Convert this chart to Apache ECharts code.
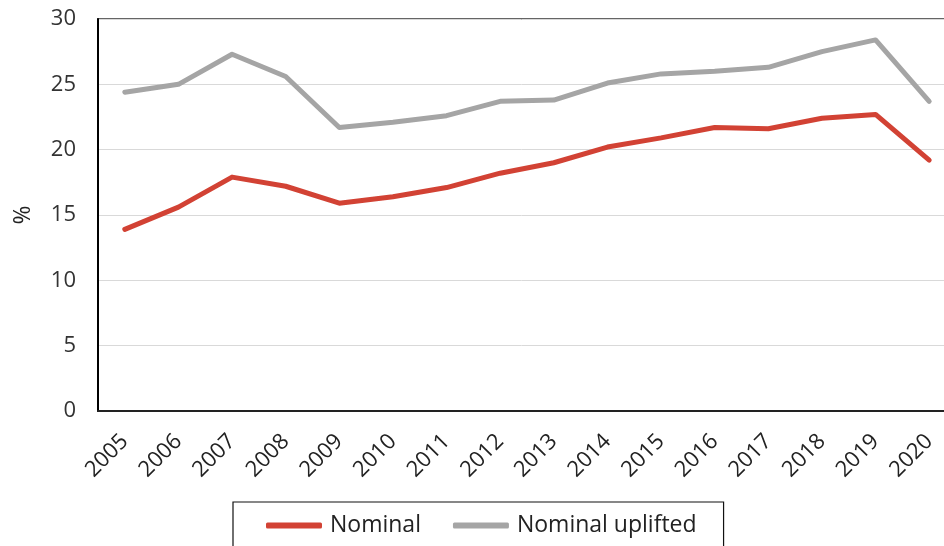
<!DOCTYPE html>
<html>
<head>
<meta charset="utf-8">
<script src="https://cdn.jsdelivr.net/npm/echarts@6/dist/echarts.min.js"></script>
<style>
html,body{margin:0;padding:0;background:#fff;}
#chart{width:944px;height:546px;}
</style>
</head>
<body>
<div id="chart"></div>
<script>
var years = ['2005','2006','2007','2008','2009','2010','2011','2012','2013','2014','2015','2016','2017','2018','2019','2020'];
var nominal = [13.9, 15.6, 17.9, 17.2, 15.9, 16.4, 17.1, 18.2, 19.0, 20.2, 20.9, 21.7, 21.6, 22.4, 22.7, 19.2];
var nominalUplifted = [24.4, 25.0, 27.3, 25.6, 21.7, 22.1, 22.6, 23.7, 23.8, 25.1, 25.8, 26.0, 26.3, 27.5, 28.4, 23.7];
var yTicks = [0, 5, 10, 15, 20, 25, 30];

var FONT = '"Open Sans", sans-serif';
var chart = echarts.init(document.getElementById('chart'), null, {renderer: 'canvas'});
chart.setOption({
  animation: false,
  backgroundColor: '#fff',
  textStyle: {fontFamily: FONT},
  grid: {left: 98, top: 19, width: 858, height: 392, outerBoundsMode: 'none', containLabel: false, show: true, borderColor: '#333', borderWidth: 1.5, backgroundColor: 'transparent'},
  legend: {
    left: 233, top: 502,
    padding: [12, 27, 18, 33],
    borderColor: '#111', borderWidth: 1.2,
    icon: 'roundRect',
    itemWidth: 56, itemHeight: 6, itemGap: 32,
    textStyle: {fontSize: 23, color: '#222', fontFamily: FONT, padding: [0, 0, 0, 3]},
    data: ['Nominal', 'Nominal uplifted']
  },
  xAxis: {
    type: 'category',
    data: years,
    boundaryGap: true,
    axisLine: {show: true, lineStyle: {color: '#222', width: 2}},
    axisTick: {show: false},
    axisLabel: {rotate: 45, fontSize: 22, color: '#222', margin: 27, interval: 0, fontFamily: FONT},
    splitLine: {show: false}
  },
  yAxis: {
    type: 'value',
    min: yTicks[0], max: yTicks[yTicks.length - 1], interval: 5,
    name: '%', nameLocation: 'middle', nameGap: 63,
    nameTextStyle: {fontSize: 23, color: '#222', fontFamily: FONT},
    axisLine: {show: true, lineStyle: {color: '#000', width: 2}},
    axisTick: {show: false},
    axisLabel: {fontSize: 22, color: '#333', margin: 22, fontFamily: FONT},
    splitLine: {show: true, lineStyle: {color: '#d9d9d9', width: 1}}
  },
  series: [
    {name: 'Nominal', type: 'line', data: nominal, symbol: 'none', lineStyle: {color: '#d24234', width: 5, cap: 'round', join: 'round'}, itemStyle: {color: '#d24234'}},
    {name: 'Nominal uplifted', type: 'line', data: nominalUplifted, symbol: 'none', lineStyle: {color: '#a5a5a5', width: 5, cap: 'round', join: 'round'}, itemStyle: {color: '#a5a5a5'}}
  ]
});
</script>
</body>
</html>
